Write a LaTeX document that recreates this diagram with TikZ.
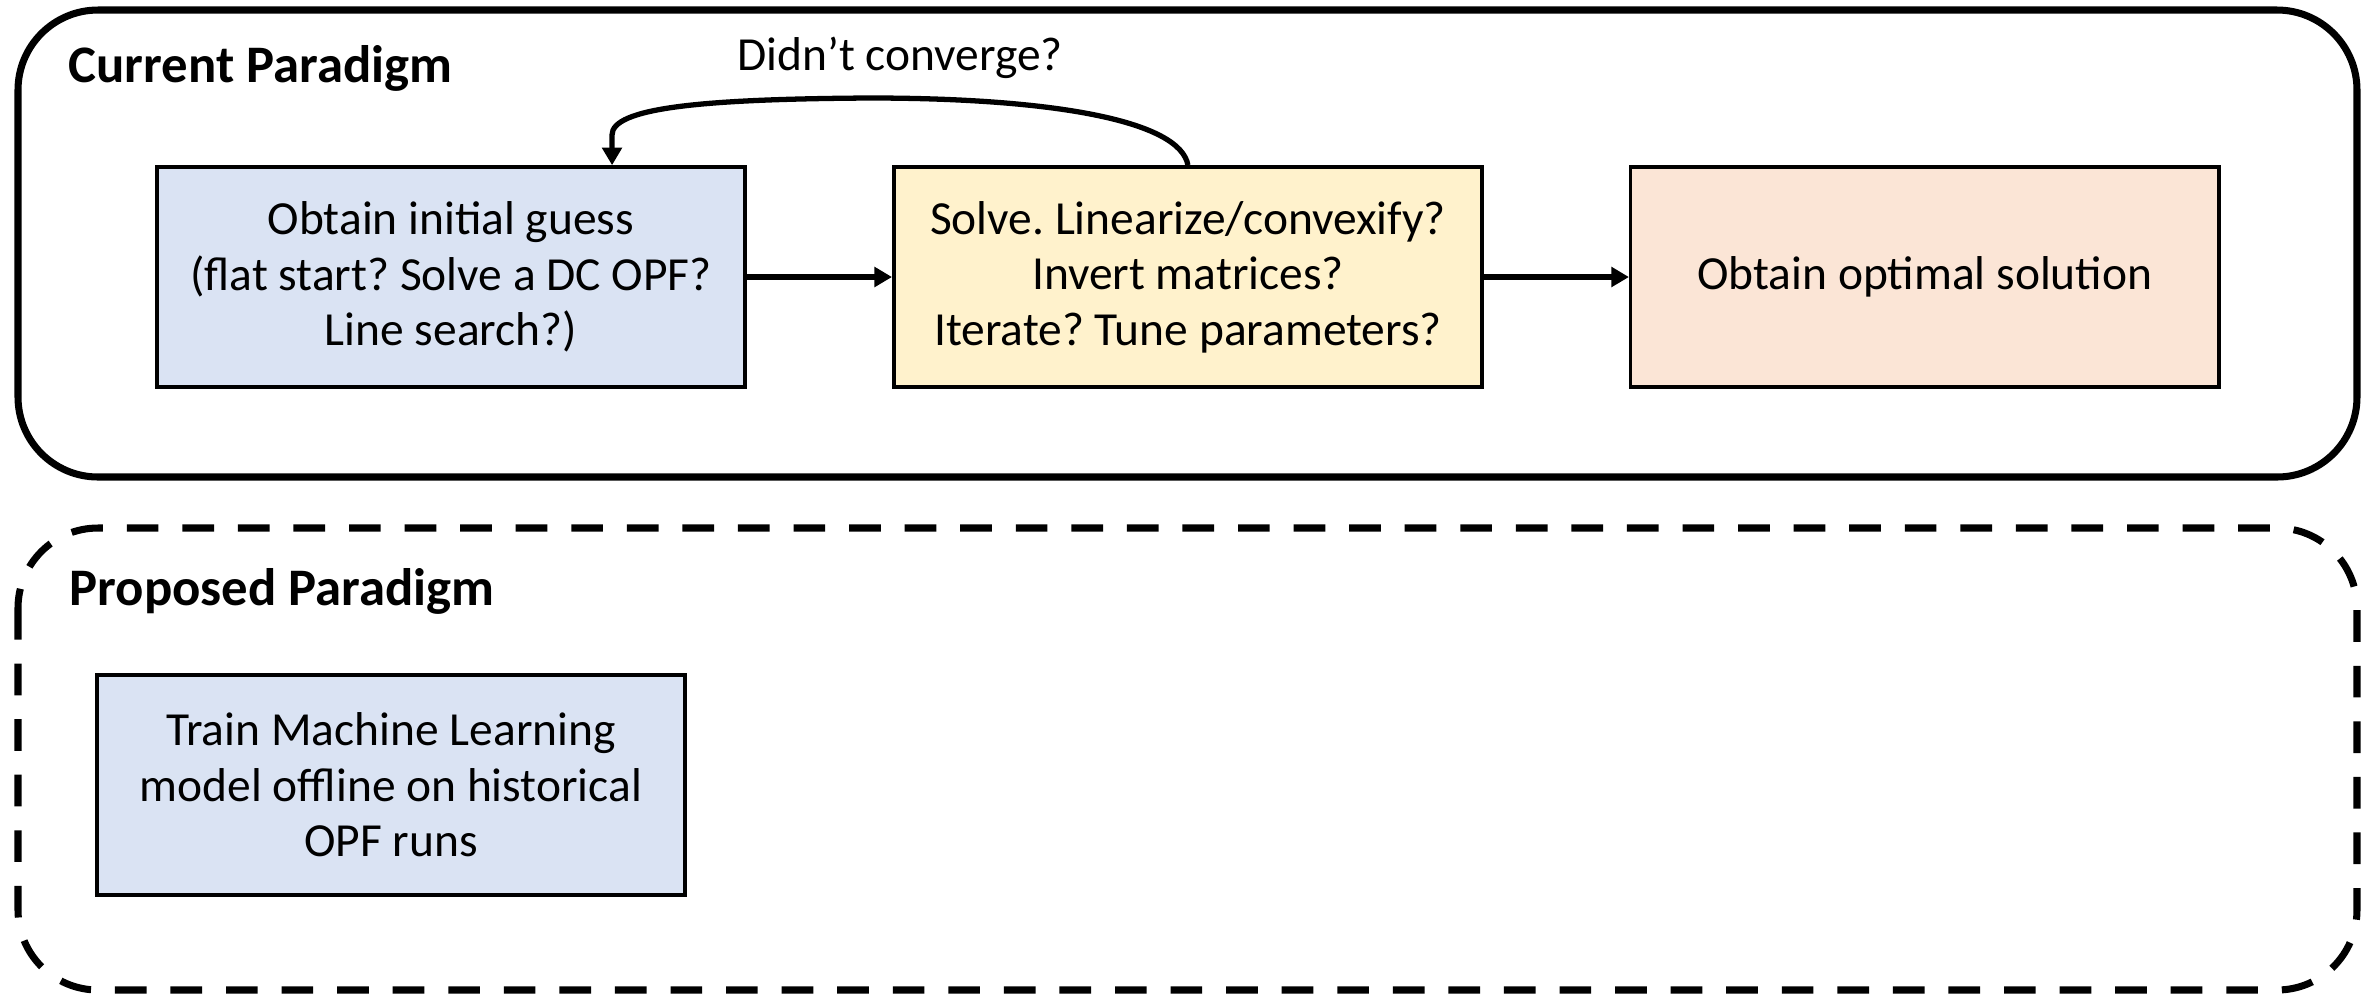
\documentclass[tikz,border=0pt]{standalone}
\usepackage{fontspec}
\setmainfont{Carlito}
\usetikzlibrary{arrows.meta,positioning}
\definecolor{bluebox}{HTML}{DAE3F3}
\definecolor{yellowbox}{HTML}{FFF2CC}
\definecolor{peachbox}{HTML}{FBE5D6}
\frenchspacing

\begin{document}
\begin{tikzpicture}[x=0.01cm,y=-0.01cm,
	box/.style={draw,line width=1pt,minimum width=5.88cm,minimum height=2.2cm,align=center,font=\fontsize{13.5}{15.8}\selectfont},
	conn/.style={line width=1.5pt,-{Triangle[length=5pt,width=5.5pt]}},
	frame/.style={line width=2pt,rounded corners=0.8cm},
	title/.style={anchor=base west,inner sep=0pt,font=\fontsize{15}{18}\selectfont\bfseries}]
\useasboundingbox (0,0) rectangle (2374,993);
\draw[frame] (18,10) rectangle (2357,477);
\draw[frame,dash pattern=on 9pt off 6.8pt] (18,528) rectangle (2357,990);
\node[title] (cur) at (68,82) {Current Paradigm};
\node[title] (prop) at (69,605) {Proposed Paradigm};
\node[box,fill=bluebox] (guess) at (451,277) {Obtain initial guess\\(flat start? Solve a DC OPF?\\Line search?)};
\node[box,fill=yellowbox,right=1.45cm of guess] (solve) {Solve. Linearize/convexify?\\Invert matrices?\\Iterate? Tune parameters?};
\node[box,fill=peachbox,right=1.45cm of solve] (opt) {Obtain optimal solution};
\node[box,fill=bluebox] (train) at (391,785) {Train Machine Learning\\model offline on historical\\OPF runs};
\node[anchor=base,inner sep=0pt,font=\fontsize{13.5}{15.6}\selectfont] (loop) at (900,70) {Didn’t converge?};
\coordinate (top) at (870,98);
\draw[conn] (guess) -- (solve);
\draw[conn] (solve) -- (opt);
\draw[conn] (solve.north) .. controls (1180,120) and (1050,98) .. (top)
	.. controls (700,99) and (612,108) .. (612,135) -- ([xshift=1.61cm]guess.north);
\end{tikzpicture}
\end{document}
